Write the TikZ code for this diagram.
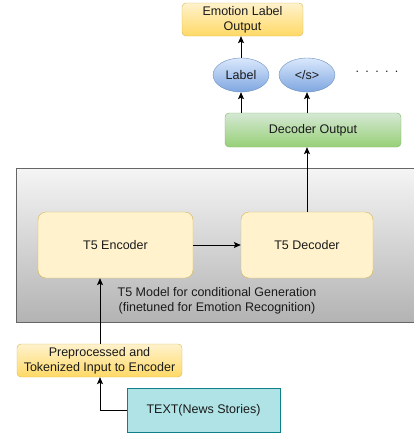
\documentclass[tikz,border=0pt]{standalone}
\usepackage{fontspec}
\setmainfont{Liberation Sans}
\usetikzlibrary{shapes.geometric,arrows.meta}
\definecolor{txt}{HTML}{1A1A1A}
\definecolor{ylA}{HTML}{FFF2CC}
\definecolor{ylB}{HTML}{FFD966}
\definecolor{ylS}{HTML}{D6B656}
\definecolor{blA}{HTML}{DAE8FC}
\definecolor{blB}{HTML}{7EA6E0}
\definecolor{blS}{HTML}{6C8EBF}
\definecolor{grA}{HTML}{D5E8D4}
\definecolor{grB}{HTML}{97D077}
\definecolor{grS}{HTML}{82B366}
\definecolor{gyA}{HTML}{F5F5F5}
\definecolor{gyB}{HTML}{B3B3B3}
\definecolor{gyS}{HTML}{666666}
\definecolor{cyF}{HTML}{B0E3E6}
\definecolor{cyS}{HTML}{0E8088}
\tikzset{
  lbl/.style={font=\fontsize{12.5}{15}\selectfont, text=txt, align=center},
  ybox/.style={lbl, draw=ylS, top color=ylA, bottom color=ylB, rounded corners=4pt, inner sep=0pt},
  tbox/.style={lbl, draw=ylS, fill=ylA, rounded corners=8pt, inner sep=0pt, minimum width=155pt, minimum height=66pt},
  tok/.style={lbl, ellipse, draw=blS, top color=blA, bottom color=blB, inner sep=0pt, minimum width=56pt, minimum height=34pt},
  arr/.style={-{Stealth[length=7pt,width=6pt,inset=1.5pt]}, line width=0.8pt, black},
}
\begin{document}
\begin{tikzpicture}[x=1pt,y=-1pt]
\useasboundingbox (0,0) rectangle (414,437);
% gray model container
\path[draw=gyS, top color=gyA, bottom color=gyB, line width=0.8pt] (16,168) rectangle (418,322);
\node[lbl] (cap) at (217,300.5) {T5 Model for conditional Generation\\ (finetuned for Emotion Recognition)};

\node[tbox] (enc) at (115.5,245) {T5 Encoder};
\node[tbox, minimum width=132pt] (dec) at (307,245) {T5 Decoder};

\node[ybox, minimum width=121pt, minimum height=33pt] (emo) at (242.5,19.5) {Emotion Label\\Output};
\node[tok] (lab) at (241,75) {Label};
\node[tok] (eos) at (307,75) {</s>};
\node[lbl] (dots) at (377,72) {.\hspace{6.3pt}.\hspace{6.3pt}.\hspace{6.3pt}.\hspace{6.3pt}.};
\node[lbl, draw=grS, top color=grA, bottom color=grB, rounded corners=4pt, inner sep=0pt, minimum width=176pt, minimum height=34pt] (dout) at (313,130) {Decoder Output};

\node[ybox, minimum width=165pt, minimum height=33pt] (pre) at (99.5,360.5) {Preprocessed and\\Tokenized Input to Encoder};
\node[lbl, draw=cyS, fill=cyF, line width=0.8pt, inner sep=0pt, minimum width=153pt, minimum height=44pt] (text) at (203.5,410) {TEXT(News Stories)};

\draw[arr] (lab.north) -- (emo.south -| lab.north);
\draw[arr] (dout.north -| lab.south) -- (lab.south);
\draw[arr] (dout.north -| eos.south) -- (eos.south);
\draw[arr] (dec.north) -- (dout.south -| dec.north);
\draw[arr] (enc.east) -- (dec.west);
\coordinate (pin) at (100,0);
\draw[arr] (pre.north -| pin) -- (enc.south -| pin);
\draw[arr] (text.west) -| (pre.south -| pin);
\end{tikzpicture}
\end{document}
